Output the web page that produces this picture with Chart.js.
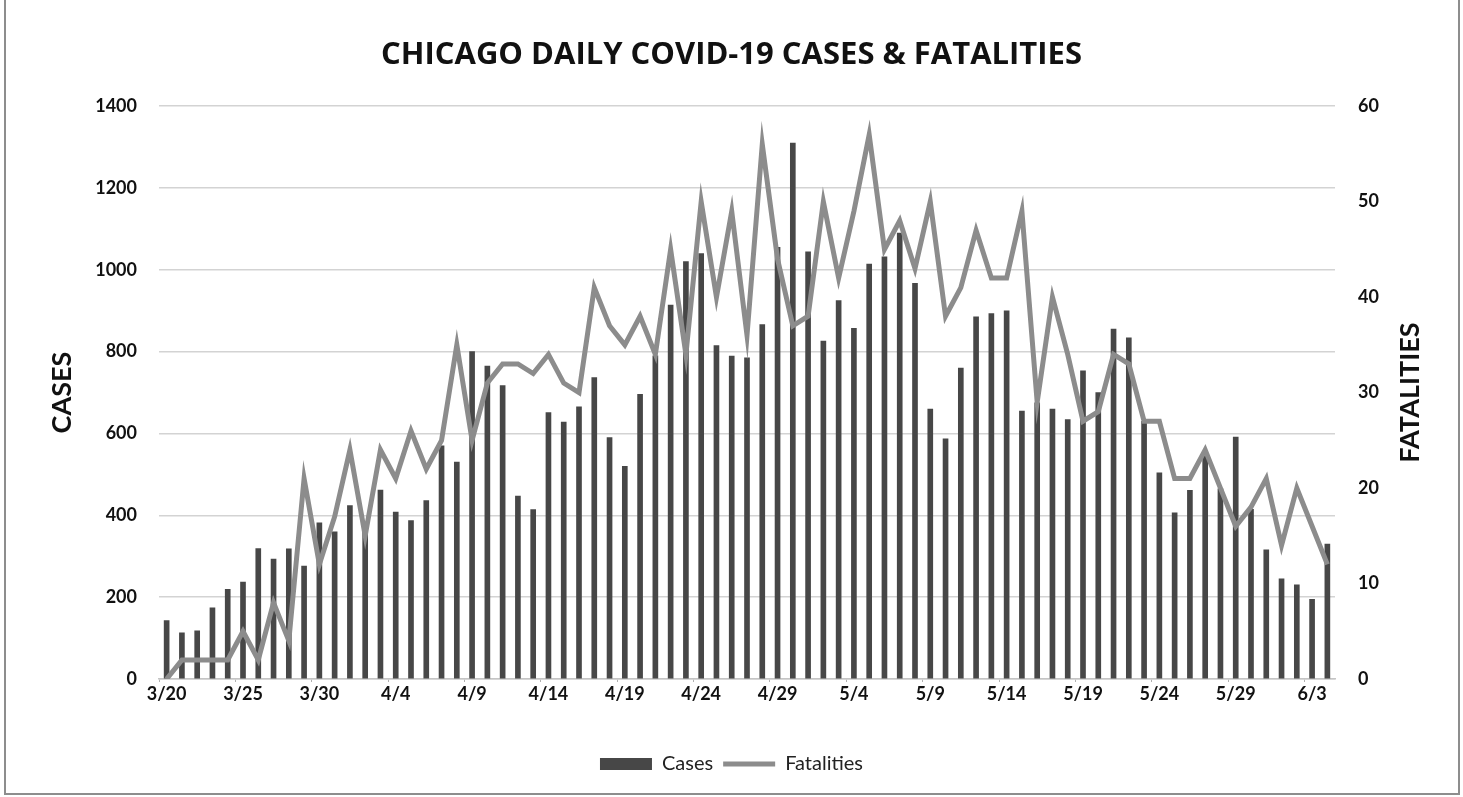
<!DOCTYPE html>
<html>
<head>
<meta charset="utf-8">
<script src="https://cdn.jsdelivr.net/npm/chart.js@4.4.1/dist/chart.umd.min.js"></script>
<style>
html, body { margin: 0; padding: 0; background: #fff; }
#wrap { position: relative; width: 1463px; height: 797px; }
#frame { position: absolute; left: 4px; top: -2px; width: 1456px; height: 797px; border: 2px solid #8d8d8d; box-sizing: border-box; pointer-events: none; }
canvas { position: absolute; left: 0; top: 0; }
</style>
</head>
<body>
<div id="wrap">
  <canvas id="chart" width="1463" height="797"></canvas>
  <div id="frame"></div>
</div>
<script>
// dates on the x axis (every 5th one gets a label)
const dates = [
  '3/20','3/21','3/22','3/23','3/24','3/25','3/26','3/27','3/28','3/29','3/30','3/31',
  '4/1','4/2','4/3','4/4','4/5','4/6','4/7','4/8','4/9','4/10','4/11','4/12','4/13','4/14','4/15',
  '4/16','4/17','4/18','4/19','4/20','4/21','4/22','4/23','4/24','4/25','4/26','4/27','4/28','4/29','4/30',
  '5/1','5/2','5/3','5/4','5/5','5/6','5/7','5/8','5/9','5/10','5/11','5/12','5/13','5/14','5/15',
  '5/16','5/17','5/18','5/19','5/20','5/21','5/22','5/23','5/24','5/25','5/26','5/27','5/28','5/29','5/30','5/31',
  '6/1','6/2','6/3','6/4'
];

// daily cases (left axis)
const cases = [
  143, 113, 118, 174, 219, 237, 319, 293, 318, 276, 382, 360,
  424, 360, 462, 408, 387, 436, 570, 530, 800, 765, 717, 447, 414, 651, 628,
  665, 737, 590, 520, 696, 790, 914, 1020, 1040, 815, 789, 785, 866, 1055, 1310,
  1044, 826, 925, 857, 1014, 1032, 1090, 967, 660, 587, 760, 885, 893, 900, 655,
  675, 660, 634, 753, 700, 855, 834, 630, 504, 406, 461, 545, 465, 591, 415, 316,
  245, 230, 195, 330
];

// daily fatalities (right axis)
const fatalities = [
  0, 2, 2, 2, 2, 5, 2, 8, 4, 21, 12, 17,
  24, 15, 24, 21, 26, 22, 25, 35, 25, 31, 33, 33, 32, 34, 31,
  30, 41, 37, 35, 38, 34, 45, 34, 50, 40, 49, 36, 56, 44, 37,
  38, 50, 42, 49, 57, 45, 48, 43, 50, 38, 41, 47, 42, 42, 49,
  29, 40, 34, 27, 28, 34, 33, 27, 27, 21, 21, 24, 20, 16, 18, 21,
  14, 20, 16, 12
];

const casesTicks = [0, 1400, 200];   // min, max, step
const fatalTicks = [0, 60, 10];

const FONT = 'Lato';

// rotated axis titles (both read bottom to top, like the original)
const axisTitles = {
  id: 'axisTitles',
  afterDraw(chart) {
    const { ctx, chartArea } = chart;
    const midY = (chartArea.top + chartArea.bottom) / 2;
    ctx.save();
    ctx.font = 'bold 27px ' + FONT;
    ctx.fillStyle = '#111';
    ctx.textAlign = 'center';
    ctx.textBaseline = 'middle';
    [[chartArea.left - 97, 'CASES'], [chartArea.right + 75, 'FATALITIES']].forEach(([x, txt]) => {
      ctx.save();
      ctx.translate(x, midY);
      ctx.rotate(-Math.PI / 2);
      ctx.fillText(txt, 0, 0);
      ctx.restore();
    });
    ctx.restore();
  }
};

new Chart(document.getElementById('chart'), {
  data: {
    labels: dates,
    datasets: [
      {
        type: 'bar',
        label: 'Cases',
        data: cases,
        yAxisID: 'y',
        backgroundColor: '#474747',
        borderWidth: 0,
        barThickness: 5,
        pointStyle: 'rect',
        order: 1
      },
      {
        type: 'line',
        label: 'Fatalities',
        data: fatalities,
        yAxisID: 'y1',
        borderColor: '#8c8c8c',
        backgroundColor: '#8c8c8c',
        borderWidth: 5,
        pointRadius: 0,
        tension: 0,
        pointStyle: 'line',
        order: 0
      }
    ]
  },
  options: {
    responsive: false,
    animation: false,
    layout: { padding: { left: 0, right: 0, top: 0, bottom: 13 } },
    plugins: {
      title: {
        display: true,
        text: 'CHICAGO DAILY COVID-19 CASES & FATALITIES',
        color: '#111',
        font: { family: 'Open Sans', size: 31, weight: 'bold' },
        padding: { top: 37, bottom: 32 }
      },
      legend: {
        position: 'bottom',
        labels: {
          usePointStyle: true,
          pointStyleWidth: 52,
          boxHeight: 12,
          color: '#222',
          padding: 10,
          font: { family: FONT, size: 20 },
          sort: (a, b) => a.datasetIndex - b.datasetIndex
        }
      },
      tooltip: { enabled: false }
    },
    scales: {
      x: {
        offset: true,
        border: { display: true, color: '#c4c4c4', width: 1.5 },
        grid: {
          display: true,
          offset: true,
          drawOnChartArea: false,
          tickLength: 3,
          color: (c) => (c.index % 5 === 0 ? '#b0b0b0' : 'rgba(0,0,0,0)')
        },
        ticks: {
          autoSkip: false,
          maxRotation: 0,
          padding: 1,
          color: '#111',
          font: { family: FONT, size: 18, weight: 'bold' },
          callback: function (v, i) { return i % 5 === 0 ? this.getLabelForValue(v) : ''; }
        },
        afterFit: (s) => { s.height = 65; }
      },
      y: {
        position: 'left',
        min: casesTicks[0],
        max: casesTicks[1],
        border: { display: false },
        grid: { color: '#d3d3d3', lineWidth: 1.5, drawTicks: false },
        ticks: {
          stepSize: casesTicks[2],
          padding: 22,
          color: '#111',
          font: { family: FONT, size: 18, weight: 'bold' },
          callback: (v) => String(v)
        },
        afterFit: (s) => { s.width = 159; }
      },
      y1: {
        position: 'right',
        min: fatalTicks[0],
        max: fatalTicks[1],
        border: { display: false },
        grid: { drawOnChartArea: false, drawTicks: false },
        ticks: {
          stepSize: fatalTicks[2],
          padding: 23,
          color: '#111',
          font: { family: FONT, size: 18, weight: 'bold' },
          callback: (v) => String(v)
        },
        afterFit: (s) => { s.width = 128; }
      }
    }
  },
  plugins: [axisTitles]
});
</script>
</body>
</html>
